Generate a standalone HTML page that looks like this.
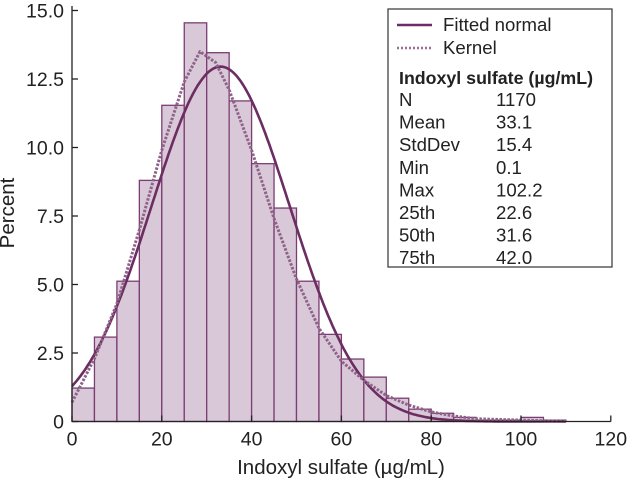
<!DOCTYPE html>
<html><head><meta charset="utf-8"><style>
html,body{margin:0;padding:0;background:#fff;}
svg{display:block;font-family:"Liberation Sans",sans-serif;}
</style></head><body>
<svg id="chart" width="628" height="482" viewBox="0 0 628 482">
<g id="bars"></g>
<g id="curves"></g>
<g id="axes"></g>
<text x="14" y="213" transform="rotate(-90 14 213)" text-anchor="middle" font-size="20.5" fill="#222">Percent</text>
<text x="341" y="474" text-anchor="middle" font-size="20.5" fill="#222">Indoxyl sulfate (µg/mL)</text>
<g font-size="18.6" fill="#222">
<rect x="388" y="9" width="224" height="258" fill="#fff" stroke="#333" stroke-width="1.2"/>
<line x1="397" y1="25" x2="432" y2="25" stroke="#6b2d62" stroke-width="2.5"/>
<text x="443" y="31">Fitted normal</text>
<line x1="397" y1="48" x2="432" y2="48" stroke="#9a6e94" stroke-width="2.5" stroke-dasharray="2,2"/>
<text x="443" y="54">Kernel</text>
<text x="399" y="84" font-weight="bold" font-size="17.8">Indoxyl sulfate (µg/mL)</text>
<g id="stats"></g>
</g>
</svg>
<script>
const binStarts = [0,5,10,15,20,25,30,35,40,45,50,55,60,65,70,75,80,85,90,95,100,105];
const binPercents = [1.22,3.08,5.12,8.8,11.54,14.55,13.46,11.7,9.41,7.79,5.12,3.18,2.28,1.62,0.85,0.45,0.3,0.15,0.05,0.05,0.15,0.05];
const binWidth = 5;
const normalMean = 33.1;
const normalSd = 15.4;
const kernelX = [0,5,10,15,20,25,28.5,32,35,40,45,50,55,60,65,70,75,80,85,90,100,110];
const kernelY = [0.7,2.3,4.3,7.0,9.9,12.4,13.5,13.1,12.1,9.9,7.4,5.2,3.4,2.2,1.5,0.95,0.6,0.35,0.2,0.1,0.05,0.0];
const xTicks = [0,20,40,60,80,100,120];
const yTicks = [0,2.5,5,7.5,10,12.5,15];
const yTickLabels = ["0","2.5","5.0","7.5","10.0","12.5","15.0"];
const statLabels = ["N","Mean","StdDev","Min","Max","25th","50th","75th"];
const statValues = ["1170","33.1","15.4","0.1","102.2","22.6","31.6","42.0"];

const NS="http://www.w3.org/2000/svg";
const X0=72, XS=4.49, Y0=421.5, YS=27.4;
const xs=v=>X0+v*XS, ys=v=>Y0-v*YS;
function mk(t,a,p){const e=document.createElementNS(NS,t);for(const k in a)e.setAttribute(k,a[k]);p.appendChild(e);return e;}
const bars=document.getElementById('bars');
binStarts.forEach((b,i)=>{
  const r=mk('rect',{x:xs(b),y:ys(binPercents[i]),width:binWidth*XS,height:binPercents[i]*YS,fill:'#d9c9d8',stroke:'#7b3d72','stroke-width':1.3},bars);
  
  
});
const curves=document.getElementById('curves');
let d='';
for(let v=0;v<=110;v+=0.5){const p=500*Math.exp(-0.5*((v-normalMean)/normalSd)**2)/(normalSd*Math.sqrt(2*Math.PI));d+=(v?'L':'M')+xs(v).toFixed(1)+','+ys(p).toFixed(1);}
const nl=mk('path',{d:d,fill:'none',stroke:'#6b2d62','stroke-width':2.6},curves);


let kd='';kernelX.forEach((v,i)=>{kd+=(i?'L':'M')+xs(v).toFixed(1)+','+ys(kernelY[i]).toFixed(1);});
const kl=mk('path',{d:kd,fill:'none',stroke:'#8f6289','stroke-width':3,'stroke-dasharray':'2.5,1.5','stroke-linejoin':'round'},curves);


const axes=document.getElementById('axes');
mk('line',{x1:X0,y1:6,x2:X0,y2:Y0,stroke:'#222','stroke-width':1.3},axes);
mk('line',{x1:X0,y1:Y0,x2:xs(120),y2:Y0,stroke:'#222','stroke-width':1.3},axes);
xTicks.forEach(v=>{
  mk('line',{x1:xs(v),y1:Y0,x2:xs(v),y2:Y0-6,stroke:'#222','stroke-width':1.3},axes);
  const t=mk('text',{x:xs(v),y:Y0+24,'text-anchor':'middle','font-size':19.5,fill:'#222'},axes);t.textContent=v;
  
  
});
yTicks.forEach((v,i)=>{
  mk('line',{x1:X0,y1:ys(v),x2:X0+6,y2:ys(v),stroke:'#222','stroke-width':1.3},axes);
  const t=mk('text',{x:X0-8,y:ys(v)+7,'text-anchor':'end','font-size':19.5,fill:'#222'},axes);t.textContent=yTickLabels[i];
  
  
});
const st=document.getElementById('stats');
statLabels.forEach((l,i)=>{
  const y=106+i*22.6;
  const a=mk('text',{x:399,y:y},st);a.textContent=l;
  
  
  const b=mk('text',{x:496,y:y},st);b.textContent=statValues[i];
  
  
});
</script>
</body></html>
